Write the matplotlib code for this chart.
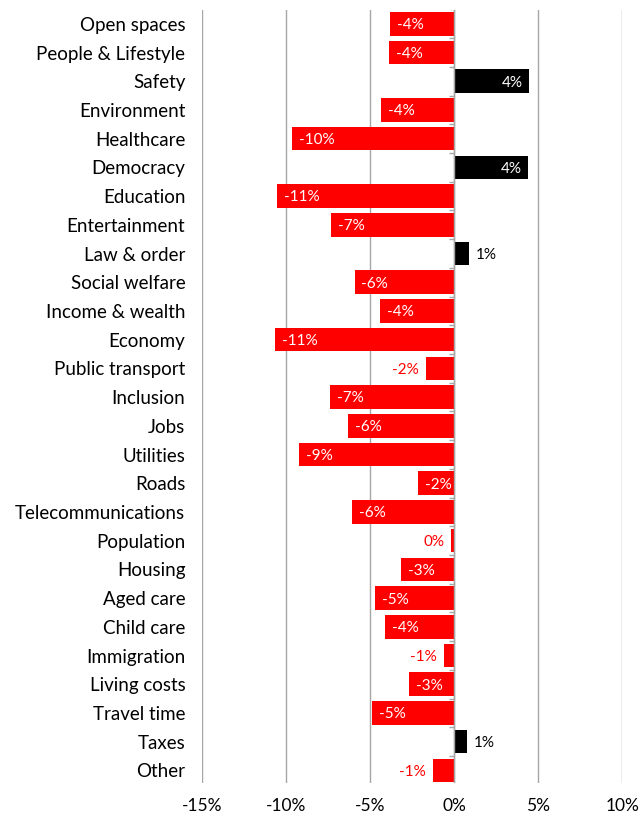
import numpy as np
import matplotlib
matplotlib.use("Agg")
import matplotlib.pyplot as plt

# change in share of mentions, by topic (percentage points)
categories = ["Open spaces", "People & Lifestyle", "Safety", "Environment", "Healthcare",
              "Democracy", "Education", "Entertainment", "Law & order", "Social welfare",
              "Income & wealth", "Economy", "Public transport", "Inclusion", "Jobs",
              "Utilities", "Roads", "Telecommunications", "Population", "Housing",
              "Aged care", "Child care", "Immigration", "Living costs", "Travel time",
              "Taxes", "Other"]
values = [-3.80, -3.87, 4.46, -4.38, -9.66,
          4.41, -10.56, -7.31, 0.85, -5.93,
          -4.41, -10.68, -1.69, -7.38, -6.30,
          -9.25, -2.15, -6.08, -0.17, -3.17,
          -4.72, -4.09, -0.61, -2.71, -4.87,
          0.73, -1.28]
xticks = [-15, -10, -5, 0, 5, 10]

plt.rcParams['font.family'] = ['Lato', 'DejaVu Sans']

fig = plt.figure(figsize=(6.4, 8.16), dpi=100)
ax = fig.add_axes([0.3156, 0.0404, 0.657, 0.9473])

y = np.arange(len(categories))
colors = ['#ff0000' if v < 0 else '#000000' for v in values]
ax.barh(y, values, height=0.82, color=colors, zorder=3)

# percentage labels: inside the bar end when it fits, otherwise just outside
for yi, v in zip(y, values):
    txt = f"{round(v):.0f}%".replace("-0%", "0%")
    if abs(v) >= 2:
        off, ha, col = (5, 'left', 'white') if v < 0 else (-5, 'right', 'white')
    else:
        off, ha, col = (-5, 'right', '#ff0000') if v < 0 else (5, 'left', 'black')
    ax.annotate(txt, (v, yi), xytext=(off, -1), textcoords='offset points',
                ha=ha, va='center', color=col, fontsize=11, zorder=4)

# zero line with small category ticks
ax.axvline(0, color='#a6a6a6', lw=1, zorder=4)
ax.hlines(np.arange(len(categories) + 1) - 0.5, -0.3, 0, color='#a6a6a6', lw=1, zorder=4)

ax.set_xlim(-15, 10)
ax.set_ylim(len(categories) - 1 + 0.44, -0.48)
ax.set_xticks(xticks)
ax.set_xticklabels([f"{t}%" for t in xticks], fontsize=12.5)
ax.set_yticks(y)
ax.set_yticklabels(categories, fontsize=13.5)
ax.tick_params(axis='y', length=0, pad=12)
ax.tick_params(axis='x', length=0, pad=11)
ax.grid(axis='x', color='#a6a6a6', lw=1, zorder=1)
for s in ax.spines.values():
    s.set_visible(False)

fig.savefig("out.png", dpi=100)
